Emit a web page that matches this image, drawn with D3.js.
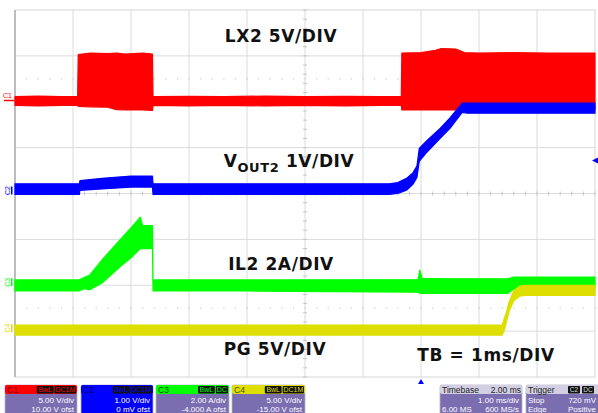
<!DOCTYPE html>
<html>
<head>
<meta charset="utf-8">
<script src="https://cdn.jsdelivr.net/npm/d3@7"></script>
<style>
  body { margin: 0; background: #fff; }
  svg { display: block; }
</style>
</head>
<body>
<svg id="scope" width="598" height="413"></svg>
<script>
// ---- Acquisition settings -------------------------------------------------
// Time axis: ms from left edge of the screen, 10 divisions at 1 ms/div
const timeDomain = [0, 10];
const channelIds = ["C1", "C2", "C3", "C4"];
const channelColors = ["#ff0000", "#0000ff", "#00ff00", "#dede00"];
const channelPerDiv = [5, 1, 2, 5];          // V/div, V/div, A/div, V/div
const channelOffset = [10, 0, -4, -15];      // offset in channel units
const triggerTime = 7.0;                     // ms (timebase delay 2.00 ms)
const triggerLevel = 0.72;                   // V on C2

// ---- C1: LX2 switch node (V), upper / lower envelope ----------------------
const lx2Time = [0, 0.4, 0.8, 1.08, 1.09, 1.3, 1.6, 1.75, 1.9, 2.2, 2.37, 2.38, 3.0, 3.6, 4.3, 5.0, 5.7, 6.3, 6.66, 6.67, 7.0, 7.25, 7.35, 7.6, 7.75, 8.0, 8.6, 9.2, 10];
const lx2Hi   = [0.55, 0.62, 0.55, 0.55, 5.15, 5.3, 5.25, 5.3, 5.2, 5.3, 5.2, 0.55, 0.6, 0.55, 0.62, 0.55, 0.6, 0.55, 0.55, 5.3, 5.35, 5.6, 5.8, 5.75, 5.35, 5.3, 5.35, 5.3, 5.3];
const lx2Lo   = [-0.4, -0.45, -0.4, -0.4, -0.5, -0.55, -0.6, -0.85, -0.9, -0.9, -0.95, -0.4, -0.45, -0.4, -0.45, -0.4, -0.45, -0.4, -0.4, -0.9, -0.9, -0.9, -0.9, -0.9, -0.9, -0.9, -0.9, -0.9, -0.9];

// ---- C2: VOUT2 (V) ---------------------------------------------------------
const voutTime = [0, 1.11, 1.12, 1.5, 2.0, 2.37, 2.38, 4.0, 6.45, 6.6, 6.75, 6.86, 6.93, 6.97, 7.1, 7.33, 7.5, 7.71, 7.8, 10];
const voutHi   = [0.21, 0.21, 0.28, 0.33, 0.38, 0.38, 0.21, 0.21, 0.21, 0.24, 0.33, 0.45, 0.6, 0.98, 1.15, 1.42, 1.65, 1.97, 1.97, 1.97];
const voutLo   = [-0.02, -0.02, 0.07, 0.10, 0.14, 0.14, -0.02, -0.02, -0.02, 0.0, 0.07, 0.2, 0.35, 0.7, 0.9, 1.2, 1.42, 1.77, 1.75, 1.75];

// ---- C3: IL2 inductor current (A) -----------------------------------------
const il2Time = [0, 1.1, 1.2, 1.29, 1.5, 1.81, 2.0, 2.16, 2.2, 2.37, 2.38, 4.0, 6.95, 6.98, 7.02, 7.5, 8.5, 8.6, 10];
const il2Hi   = [0.23, 0.23, 0.35, 0.45, 1.1, 1.98, 2.5, 2.97, 2.6, 2.6, 0.23, 0.23, 0.25, 0.66, 0.3, 0.28, 0.28, 0.36, 0.36];
const il2Lo   = [-0.25, -0.25, -0.15, -0.2, 0.1, 0.8, 1.2, 1.6, 1.6, 1.6, -0.25, -0.25, -0.3, -0.35, -0.35, -0.35, -0.35, -0.16, -0.16];

// ---- C4: PG power-good (V) ------------------------------------------------
const pgTime = [0, 8.40, 8.44, 8.47, 8.52, 8.6, 8.7, 8.8, 10];
const pgHi   = [0.66, 0.66, 1.5, 2.0, 3.2, 4.4, 4.9, 5.0, 5.0];
const pgLo   = [-0.43, -0.43, 0.2, 0.9, 2.2, 3.3, 3.8, 3.9, 3.9];

// ---- On-screen annotations -------------------------------------------------
const traceLabels = ["LX2 5V/DIV", "1V/DIV", "IL2 2A/DIV", "PG 5V/DIV"];
const timebaseLabel = "TB = 1ms/DIV";

// Status bar texts
const chanScale = ["5.00 V/div", "1.00 V/div", "2.00 A/div", "5.00 V/div"];
const chanOfst = ["10.00 V ofst", "0 mV ofst", "-4.000 A ofst", "-15.00 V ofst"];
const chanTags = [["BwL", "DC1M"], ["BwL", "DC1M"], ["BwL", "DC"], ["BwL", "DC1M"]];

// ---------------------------------------------------------------------------
const svg = d3.select("#scope");
const plot = { left: 15, right: 595, top: 10, bottom: 377 };
const nDivX = 10, nDivY = 8;

const x = d3.scaleLinear().domain(timeDomain).range([plot.left, plot.right]);
const div = d3.scaleLinear().domain([-nDivY / 2, nDivY / 2]).range([plot.bottom, plot.top]);
const yScales = channelIds.map((id, i) => {
  const pd = channelPerDiv[i], of = channelOffset[i];
  return d3.scaleLinear()
    .domain([-nDivY / 2 * pd - of, nDivY / 2 * pd - of])
    .range([plot.bottom, plot.top]);
});

// ---- Graticule ----
const grid = svg.append("g");
grid.append("rect")
  .attr("x", plot.left).attr("y", plot.top)
  .attr("width", plot.right - plot.left).attr("height", plot.bottom - plot.top)
  .attr("fill", "#fff").attr("stroke", "#d6d6d6");

const xDivs = d3.range(1, nDivX);
const yDivs = d3.range(-nDivY / 2 + 1, nDivY / 2);

grid.selectAll("line.vx").data(xDivs).join("line")
  .attr("x1", d => x(d)).attr("x2", d => x(d))
  .attr("y1", plot.top).attr("y2", plot.bottom)
  .attr("stroke", "#dadada").attr("stroke-width", 1);
grid.selectAll("line.hy").data(yDivs).join("line")
  .attr("x1", plot.left).attr("x2", plot.right)
  .attr("y1", d => div(d)).attr("y2", d => div(d))
  .attr("stroke", "#dadada").attr("stroke-width", 1);

// minor ticks on the centre axes, 5 per division
const minorX = d3.range(0, nDivX * 5 + 1).map(k => timeDomain[0] + k / 5);
const minorY = d3.range(-nDivY / 2 * 5, nDivY / 2 * 5 + 1).map(k => k / 5);
grid.selectAll("line.mx").data(minorX).join("line")
  .attr("x1", d => x(d)).attr("x2", d => x(d))
  .attr("y1", div(0) - 2).attr("y2", div(0) + 2)
  .attr("stroke", "#c4c4c4");
grid.selectAll("line.my").data(minorY).join("line")
  .attr("x1", x(5) - 2).attr("x2", x(5) + 2)
  .attr("y1", d => div(d)).attr("y2", d => div(d))
  .attr("stroke", "#c4c4c4");

// dotted reference rows
[2.5, -2.5].forEach(r => {
  grid.selectAll(null).data(minorX).join("rect")
    .attr("x", d => x(d) - 0.5).attr("y", div(r) - 0.5)
    .attr("width", 1.2).attr("height", 1.2).attr("fill", "#c8c8c8");
});

// left border a little darker
grid.append("line")
  .attr("x1", plot.left).attr("x2", plot.left)
  .attr("y1", plot.top).attr("y2", plot.bottom)
  .attr("stroke", "#bdbdbd").attr("stroke-width", 2);

// ---- Traces ----
const traces = [
  { t: lx2Time, hi: lx2Hi, lo: lx2Lo },
  { t: voutTime, hi: voutHi, lo: voutLo },
  { t: il2Time, hi: il2Hi, lo: il2Lo },
  { t: pgTime, hi: pgHi, lo: pgLo }
];
traces.forEach((tr, i) => {
  const y = yScales[i];
  const rows = tr.t.map((t, k) => ({ t, hi: tr.hi[k], lo: tr.lo[k] }));
  const area = d3.area().x(d => x(d.t)).y0(d => y(d.lo)).y1(d => y(d.hi));
  svg.append("path").datum(rows)
    .attr("d", area)
    .attr("fill", channelColors[i])
    .attr("stroke", channelColors[i]).attr("stroke-width", 1.2)
    .attr("stroke-linejoin", "round");
});

// ---- Channel ground markers at the left edge ----
channelIds.forEach((id, i) => {
  const y0 = yScales[i](0) - 3;
  const g = svg.append("g").attr("fill", channelColors[i]);
  if (i === 0) {
    g.append("text").attr("x", 3).attr("y", y0 - 1)
      .attr("font-family", "Liberation Sans, Arial, sans-serif")
      .attr("font-size", 7).text(id);
    g.append("rect").attr("x", 4).attr("y", y0 + 1).attr("width", 10).attr("height", 1.5);
  } else {
    g.append("text")
      .attr("transform", `translate(10,${y0}) rotate(-90)`)
      .attr("text-anchor", "middle")
      .attr("font-family", "Liberation Sans, Arial, sans-serif")
      .attr("font-size", 7).text(id);
    g.append("rect").attr("x", 11).attr("y", y0 - 4).attr("width", 1.5).attr("height", 8);
  }
});

// trigger level marker (right edge) and trigger position marker (bottom)
const trigY = yScales[1](triggerLevel);
svg.append("path")
  .attr("d", `M${plot.right - 3},${trigY} l6,-3 l0,6 z`)
  .attr("fill", channelColors[1]);
svg.append("path")
  .attr("d", `M${x(triggerTime)},${plot.bottom + 2} l-3,5 l6,0 z`)
  .attr("fill", channelColors[1]);

// ---- Annotations ----
const labelFont = "DejaVu Sans, Verdana, sans-serif";
const lab = svg.append("g")
  .attr("font-family", labelFont).attr("font-weight", "bold")
  .attr("font-size", 17).attr("fill", "#111").attr("letter-spacing", 0.6);
lab.append("text").attr("x", 281).attr("y", 42).attr("text-anchor", "middle").text(traceLabels[0]);
const vo = lab.append("text").attr("x", 289).attr("y", 167).attr("text-anchor", "middle");
vo.append("tspan").text("V");
vo.append("tspan").attr("font-size", 13).attr("dy", 5).text("OUT2");
vo.append("tspan").attr("dy", -5).text(" " + traceLabels[1]);
lab.append("text").attr("x", 281).attr("y", 270).attr("text-anchor", "middle").text(traceLabels[2]);
lab.append("text").attr("x", 275).attr("y", 355).attr("text-anchor", "middle").text(traceLabels[3]);
lab.append("text").attr("x", 486).attr("y", 361).attr("text-anchor", "middle").text(timebaseLabel);

// ---- Status bar ----
const bar = svg.append("g").attr("font-family", "Liberation Sans, Arial, sans-serif");
const boxPurple = "#7a6db0";
const chanBoxX = [5, 81, 156, 232];
const chanBoxW = [72, 72, 73, 73];
const headerText = ["#700", "#00005a", "#004000", "#505000"];
const row1 = 402.5, row2 = 411.5;
channelIds.forEach((id, i) => {
  const bx = chanBoxX[i], bw = chanBoxW[i], by = 385;
  const g = bar.append("g");
  g.append("rect").attr("x", bx).attr("y", by).attr("width", bw).attr("height", 32)
    .attr("rx", 2).attr("fill", i === 1 ? channelColors[1] : boxPurple)
    .attr("stroke", "#b8b4cc").attr("stroke-width", 0.8);
  g.append("rect").attr("x", bx).attr("y", by).attr("width", bw).attr("height", 9)
    .attr("rx", 2).attr("fill", channelColors[i]);
  g.append("text").attr("x", bx + 2).attr("y", by + 8).attr("font-size", 8.5)
    .attr("fill", headerText[i]).text(id);
  // tag boxes, right aligned
  let tx = bx + bw - 1;
  chanTags[i].slice().reverse().forEach(tag => {
    const w = tag.length * 4.6 + 3;
    tx -= w;
    g.append("rect").attr("x", tx).attr("y", by + 1).attr("width", w).attr("height", 7.5)
      .attr("rx", 1).attr("fill", "#111");
    g.append("text").attr("x", tx + w / 2).attr("y", by + 7.3).attr("text-anchor", "middle")
      .attr("font-size", 7).attr("fill", channelColors[i]).text(tag);
    tx -= 1;
  });
  g.append("text").attr("x", bx + bw - 3).attr("y", row1).attr("text-anchor", "end")
    .attr("font-size", 8).attr("fill", "#fff").text(chanScale[i]);
  g.append("text").attr("x", bx + bw - 3).attr("y", row2).attr("text-anchor", "end")
    .attr("font-size", 8).attr("fill", "#fff").text(chanOfst[i]);
});

// timebase box
const tb = bar.append("g");
tb.append("rect").attr("x", 440).attr("y", 385).attr("width", 82).attr("height", 32)
  .attr("rx", 2).attr("fill", boxPurple).attr("stroke", "#b8b4cc").attr("stroke-width", 0.8);
tb.append("rect").attr("x", 440).attr("y", 385).attr("width", 82).attr("height", 9)
  .attr("rx", 2).attr("fill", "#d2cfe2");
tb.append("text").attr("x", 442).attr("y", 393).attr("font-size", 8.5).attr("fill", "#222").text("Timebase");
tb.append("text").attr("x", 521).attr("y", 393).attr("text-anchor", "end").attr("font-size", 8.5).attr("fill", "#222").text("2.00 ms");
tb.append("text").attr("x", 519).attr("y", row1).attr("text-anchor", "end").attr("font-size", 8).attr("fill", "#fff").text("1.00 ms/div");
tb.append("text").attr("x", 442).attr("y", row2).attr("font-size", 8).attr("fill", "#fff").text("6.00 MS");
tb.append("text").attr("x", 519).attr("y", row2).attr("text-anchor", "end").attr("font-size", 8).attr("fill", "#fff").text("600 MS/s");

// trigger box
const trg = bar.append("g");
trg.append("rect").attr("x", 526).attr("y", 385).attr("width", 76).attr("height", 32)
  .attr("rx", 2).attr("fill", boxPurple).attr("stroke", "#b8b4cc").attr("stroke-width", 0.8);
trg.append("rect").attr("x", 526).attr("y", 385).attr("width", 76).attr("height", 9)
  .attr("rx", 2).attr("fill", "#d2cfe2");
trg.append("text").attr("x", 528).attr("y", 393).attr("font-size", 8.5).attr("fill", "#222").text("Trigger");
[["C2", 568], ["DC", 582]].forEach(([t, px]) => {
  trg.append("rect").attr("x", px).attr("y", 386).attr("width", 12).attr("height", 7.5).attr("rx", 1).attr("fill", "#111");
  trg.append("text").attr("x", px + 6).attr("y", 392.3).attr("text-anchor", "middle").attr("font-size", 6.5).attr("fill", "#ddd").text(t);
});
trg.append("text").attr("x", 528).attr("y", row1).attr("font-size", 8).attr("fill", "#fff").text("Stop");
trg.append("text").attr("x", 596).attr("y", row1).attr("text-anchor", "end").attr("font-size", 8).attr("fill", "#fff").text(d3.format(".0f")(triggerLevel * 1000) + " mV");
trg.append("text").attr("x", 528).attr("y", row2).attr("font-size", 8).attr("fill", "#fff").text("Edge");
trg.append("text").attr("x", 596).attr("y", row2).attr("text-anchor", "end").attr("font-size", 8).attr("fill", "#fff").text("Positive");
</script>
</body>
</html>
